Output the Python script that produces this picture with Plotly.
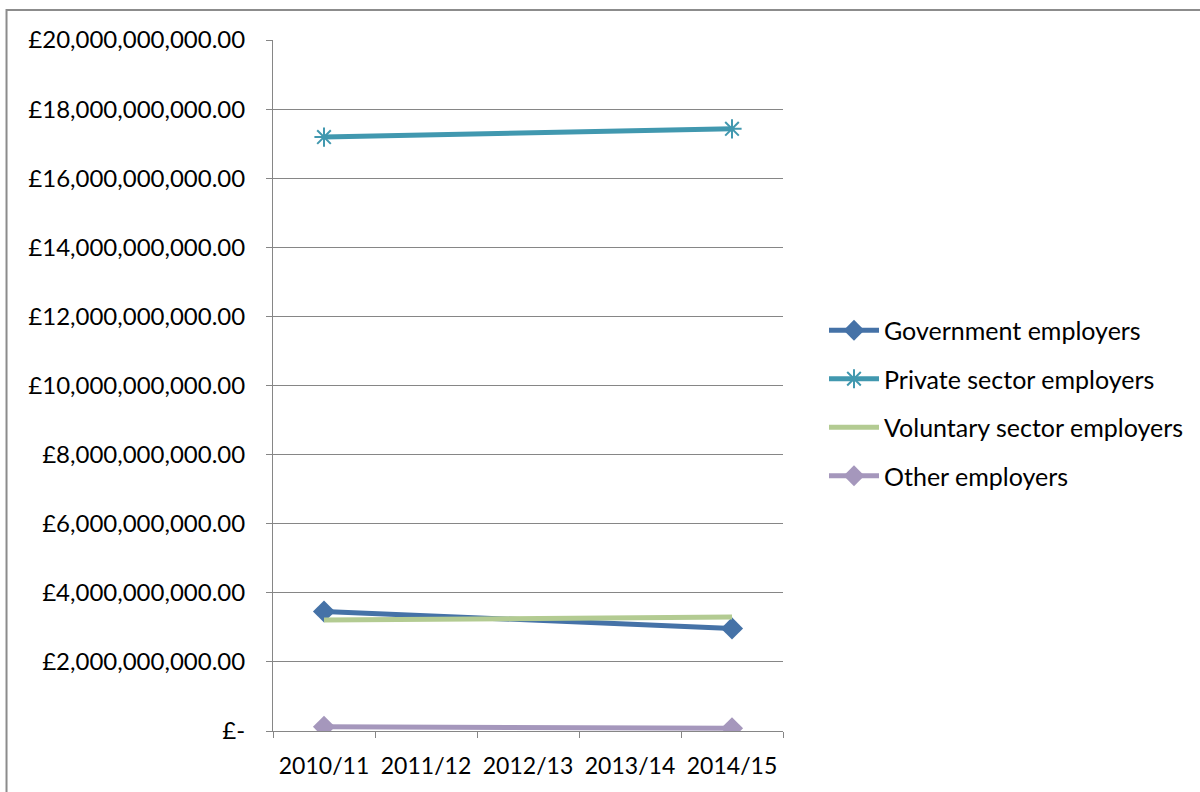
import plotly.graph_objects as go

# Financial years on the category axis
years = ["2010/11", "2011/12", "2012/13", "2013/14", "2014/15"]

# Spend by employer type (GBP); only the first and last years are reported
government = [3.46e9, None, None, None, 2.97e9]
private = [17.19e9, None, None, None, 17.43e9]
voluntary = [3.21e9, None, None, None, 3.30e9]
other = [0.12e9, None, None, None, 0.08e9]

# Y-axis tick values and their accounting-style labels
y_ticks = [i * 2e9 for i in range(11)]
y_labels = ["£-"] + ["£{:,.2f}".format(v) for v in y_ticks[1:]]

FONT = "Lato"
GRID = "#868686"

fig = go.Figure()

fig.add_trace(go.Scatter(
    x=years, y=government, name="Government employers", mode="lines+markers",
    connectgaps=True, legendgroup="g1",
    line=dict(color="#4572A7", width=5),
    marker=dict(symbol="diamond", size=17, color="#4572A7"),
))
fig.add_trace(go.Scatter(
    x=years, y=private, name="Private sector employers", mode="lines+markers",
    connectgaps=True, legendgroup="g2",
    line=dict(color="#4198AF", width=5),
    marker=dict(symbol="asterisk-open", size=16, color="#4198AF",
                line=dict(color="#4198AF", width=2)),
))
fig.add_trace(go.Scatter(
    x=years, y=voluntary, name="Voluntary sector employers", mode="lines",
    connectgaps=True, legendgroup="g3",
    line=dict(color="#B3CB92", width=5),
))
fig.add_trace(go.Scatter(
    x=years, y=other, name="Other employers", mode="lines+markers",
    connectgaps=True, legendgroup="g4",
    line=dict(color="#A597BC", width=5),
    marker=dict(symbol="diamond", size=17, color="#A597BC"),
))

L, R, T, B = 273, 416, 40, 61
PW, PH = 1200 - L - R, 792 - T - B

# Outer chart-area frame
fig.add_shape(
    type="rect", xref="paper", yref="paper",
    x0=(6 - L) / PW, x1=(1210 - L) / PW,
    y0=-(800 - (792 - B)) / PH, y1=(792 - B - 10) / PH,
    line=dict(color="#8C8C8C", width=2), fillcolor="rgba(0,0,0,0)", layer="below",
)

fig.update_layout(
    width=1200, height=792,
    margin=dict(l=L, r=R, t=T, b=B),
    paper_bgcolor="white", plot_bgcolor="white",
    font=dict(family=FONT, size=23, color="black"),
    showlegend=True,
    legend=dict(
        x=(824 - L) / PW, xanchor="left",
        y=(792 - B - 403) / PH, yanchor="middle",
        font=dict(family=FONT, size=25, color="black"),
        tracegroupgap=13, itemwidth=50,
        bgcolor="rgba(0,0,0,0)",
    ),
    xaxis=dict(
        type="category", categoryorder="array", categoryarray=years,
        range=[-0.5, 4.5],
        showline=True, linecolor=GRID, linewidth=1,
        ticks="outside", tickson="boundaries", ticklen=6, tickcolor=GRID,
        showgrid=False, zeroline=False,
        tickfont=dict(family=FONT, size=23, color="black"),
        ticklabelstandoff=14,
    ),
    yaxis=dict(
        range=[0, 20e9],
        tickvals=y_ticks, ticktext=y_labels,
        showline=True, linecolor=GRID, linewidth=1,
        ticks="outside", ticklen=6, tickcolor=GRID,
        showgrid=True, gridcolor=GRID, gridwidth=1,
        zeroline=False,
        tickfont=dict(family=FONT, size=24, color="black"),
        ticklabelstandoff=16,
    ),
)

fig.write_html("out.html")
